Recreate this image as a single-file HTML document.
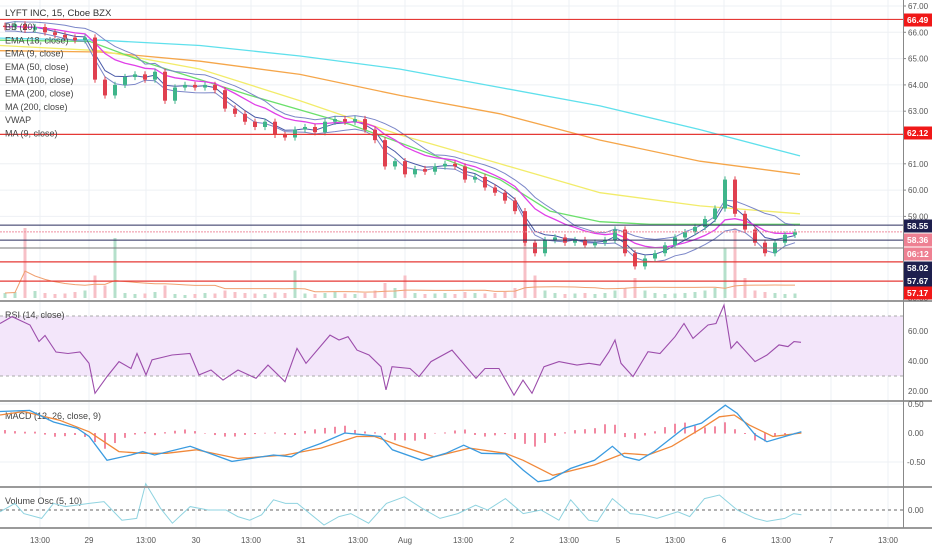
<!DOCTYPE html>
<html><head><meta charset="utf-8">
<style>
html,body{margin:0;padding:0;background:#fff;}
svg{display:block;font-family:"Liberation Sans",sans-serif;}
</style></head>
<body>
<svg id="c" width="932" height="550" viewBox="0 0 932 550" xmlns="http://www.w3.org/2000/svg"></svg>
<script>
// ---------- data ----------
const closes=[66.2,66.3,66.1,66.2,66.0,65.9,65.8,65.7,65.8,64.2,63.6,64.0,64.3,64.4,64.2,64.5,63.4,63.9,64.0,63.9,64.0,63.8,63.1,62.9,62.6,62.4,62.6,62.1,62.0,62.3,62.4,62.2,62.6,62.7,62.6,62.7,62.3,61.9,60.9,61.1,60.6,60.8,60.7,60.9,61.0,60.9,60.4,60.5,60.1,59.9,59.6,59.2,58.0,57.6,58.1,58.2,58.0,58.1,57.9,58.0,58.1,58.5,57.6,57.1,57.4,57.6,57.9,58.2,58.4,58.6,58.9,59.3,60.4,59.1,58.5,58.0,57.6,58.0,58.3,58.4];
const volumes=[10,12,140,14,10,8,9,12,15,45,25,120,10,8,9,12,25,8,6,8,10,9,15,12,10,9,8,11,10,55,9,8,10,12,9,8,10,15,30,20,45,10,8,9,10,8,12,10,9,10,12,20,140,45,15,10,8,9,10,8,10,15,20,40,15,10,8,9,10,12,15,20,100,140,40,15,12,10,8,9];
const cyanT=[0,10,20,30,40,50,60,70,80], cyanP=[65.78,65.7,65.5,65.1,64.6,63.9,63.2,62.3,61.3];
const orangeT=[0,10,20,30,40,50,60,70,80], orangeP=[65.3,65.25,64.9,64.4,63.6,62.9,61.9,61.1,60.6];
const yellowT=[0,10,20,30,40,50,60,70,80], yellowP=[65.5,65.3,64.6,63.4,62.1,61.0,59.9,59.4,59.1];
const greenT=[0,9,15,25,35,45,50,55,60,65,70,80], greenP=[65.7,65.65,64.8,63.6,62.5,61.1,60.4,59.2,58.8,58.7,58.7,58.7];
const levels=[66.49,62.12,57.27,56.54], levelsNavy=[58.67,58.10], levelGray=[57.80], levelPink=[58.41];
const priceTicks=[67,66,65,64,63,61,60,59];
const rsiT=[0,1.2,3,3.9,4.5,5.6,6.8,8,8.9,9.5,10.7,11.9,13.1,13.7,14.6,15.2,17.2,19,19.9,21.1,22.3,23.8,25.6,26.8,28.5,29.7,30.6,33,33.9,34.8,35.7,36.9,38.1,38.6,39.2,41,41.9,43.1,45.2,47.6,48.5,49.9,51.4,52.3,53.2,54.4,55.9,57.7,58.9,60,60.9,61.5,62.1,63.3,64.8,66,67.5,68.4,69.3,70.8,71.6,72.4,73.1,73.7,75.5,76.7,77.9,78.8,79.4,80.1];
const rsiV=[65,69.6,64,53,57,46,45,46,38.5,18.5,29.6,39.6,35,45,30.7,40.7,44,45,30.7,34,27.3,34,28.5,37.3,26.2,48.4,38.5,57.3,54,56.2,47.3,44,36.2,20.7,36.2,35,29.6,39.6,47.3,28.5,35,35,17.3,27.3,18.5,36.2,39.6,37.3,38.5,37.3,46.2,54,38.5,29.6,46.2,45,56.2,65,55.1,64,65,77.3,48.4,52.9,39.6,44,50.7,49.6,52.9,52.5];
const macdZX=[0,50,90,130,150,180,220,240,260,320,390,460,490,510,540,580,610,640,660,710,750,780,810,850,880,905,925,960,1000,1030,1050,1075,1100,1150,1180,1220,1240,1270,1290,1320,1348];
const macdV=[0.37,0.39,0.19,0.08,-0.06,-0.47,-0.38,-0.32,-0.38,-0.23,-0.49,-0.38,-0.41,-0.29,-0.18,0.0,-0.03,-0.06,-0.29,-0.47,-0.35,-0.21,-0.35,-0.36,-0.64,-0.84,-0.81,-0.61,-0.47,-0.23,-0.41,-0.47,-0.32,0.08,0.17,0.48,0.34,-0.03,-0.15,-0.06,0.02];
const sigZX=[0,40,100,150,200,240,280,330,400,480,540,600,630,670,730,790,850,880,930,1000,1050,1090,1130,1180,1210,1235,1260,1300,1348];
const sigV=[0.31,0.37,0.22,0.02,-0.32,-0.35,-0.35,-0.29,-0.44,-0.38,-0.26,-0.06,-0.06,-0.21,-0.41,-0.26,-0.35,-0.47,-0.73,-0.55,-0.35,-0.38,-0.23,0.08,0.28,0.31,0.14,-0.06,0.0];
const voZX=[0,25,40,70,90,110,150,175,205,230,245,270,290,320,350,380,400,420,440,460,480,500,545,570,590,620,650,680,710,740,770,800,820,850,880,910,940,960,990,1005,1030,1060,1080,1105,1140,1160,1185,1210,1240,1270,1290,1320,1335,1348];
const voV=[-3,11,-6,-14,11,5.6,11,14,-17,-14,44,2.8,-22,5.6,0,0,-11,-17,-8,17,11,11,-25,-11,-6,-22,11,22,2.8,-14,-6,8,0,19,-6,0,-17,17,-17,-19,19,-6,-8,-14,-3,-11,19,25,0,-14,-19,-14,-6,-8];
const timeLabels=["13:00","29","13:00","30","13:00","31","13:00","Aug","13:00","2","13:00","5","13:00","6","13:00","7","13:00"];
const timeT=[4,8.9,14.6,19.6,25.1,30.1,35.8,40.5,46.3,51.2,56.9,61.8,67.5,72.4,78.1,83.1,88.8];

// ---------- scales ----------
const PW=903;
const x=t=>t*10;
const yP=p=>6+(67-p)*26.3;
const yR=v=>331+(60-v)*1.5;
const yM=v=>433-v*58;
const yV=v=>510-v*0.6;
const yVol=v=>298-v*0.5;
const svg=document.getElementById('c');
const NS='http://www.w3.org/2000/svg';
function el(tag,attrs,parent){const e=document.createElementNS(NS,tag);for(const k in attrs)e.setAttribute(k,attrs[k]);(parent||svg).appendChild(e);return e;}
function txt(s,xx,yy,attrs,parent){const e=el('text',Object.assign({x:xx,y:yy},attrs),parent);e.textContent=s;return e;}
function interp(ts,vs,t){if(t<=ts[0])return vs[0];for(let i=1;i<ts.length;i++){if(t<=ts[i]){const f=(t-ts[i-1])/(ts[i]-ts[i-1]);return vs[i-1]+f*(vs[i]-vs[i-1]);}}return vs[vs.length-1];}
function poly(ts,vs,ys,color,name,w){const pts=ts.map((t,i)=>x(t).toFixed(1)+','+ys(vs[i]).toFixed(1)).join(' ');const p=el('polyline',{points:pts,fill:'none',stroke:color,'stroke-width':w||1.2});return p;}
function ema(arr,n){const k=2/(n+1);const out=[];let e=arr[0];arr.forEach(v=>{e=v*k+e*(1-k);out.push(e);});return out;}

// ---------- grid ----------
const grid=el('g',{});
timeT.forEach(t=>el('line',{x1:x(t),x2:x(t),y1:0,y2:528,stroke:'#eef0f4'},grid));
priceTicks.forEach(p=>el('line',{x1:0,x2:PW,y1:yP(p),y2:yP(p),stroke:'#eef0f4'},grid));
[60,40].forEach(v=>el('line',{x1:0,x2:PW,y1:yR(v),y2:yR(v),stroke:'#e6e0ee'},grid));
[0.5,-0.5].forEach(v=>el('line',{x1:0,x2:PW,y1:yM(v),y2:yM(v),stroke:'#eef0f4'},grid));

// ---------- main pane ----------
const volG=el('g',{});
volumes.forEach((v,i)=>{const up=closes[i]>=(i?closes[i-1]:closes[i]);const b=el('rect',{x:x(i+0.5)-1.5,y:yVol(v),width:3,height:298-yVol(v),fill:up?'#b5e0cb':'#f7c0c7'},volG);});
const volMa=volumes.map((v,i)=>{const s=volumes.slice(Math.max(0,i-19),i+1);return s.reduce((a,b)=>a+b,0)/s.length;});
poly(volumes.map((v,i)=>i+0.5),volMa,yVol,'#f0a070','volume-ma',1);

poly(cyanT,cyanP,yP,'#5fe0ec','ema-200-line',1.3);
poly(orangeT,orangeP,yP,'#f5a64a','ema-100-line',1.3);
poly(yellowT,yellowP,yP,'#f2ec6a','ema-50-line',1.3);
poly(greenT,greenP,yP,'#6be06b','ma-200-line',1.3);
const tC=closes.map((c,i)=>i+0.5);
const e9=ema(closes,4), e18=ema(closes,7), e20=ema(closes,9);
const bbU=[],bbL=[];
closes.forEach((c,i)=>{const s=closes.slice(Math.max(0,i-5),i+1);const m=s.reduce((a,b)=>a+b,0)/s.length;const sd=Math.sqrt(s.reduce((a,b)=>a+(b-m)*(b-m),0)/s.length);bbU.push(e18[i]+0.15+sd*0.6);bbL.push(e18[i]-0.15-sd*0.6);});
poly(tC,bbU,yP,'#7b86c8','bollinger-upper',1);
poly(tC,bbL,yP,'#7b86c8','bollinger-lower',1);
poly(tC,e9,yP,'#4a5aa8','ema-9-line',1);
poly(tC,e20,yP,'#e040e8','ema-18-line',1.3);

const cG=el('g',{});
closes.forEach((c,i)=>{const o=i?closes[i-1]:c+0.05;const up=c>=o;const col=up?'#3fb58a':'#e0404f';const cx=x(i+0.5);
el('line',{x1:cx,x2:cx,y1:yP(Math.max(o,c)+0.12),y2:yP(Math.min(o,c)-0.12),stroke:col,'stroke-width':1},cG);
const r=el('rect',{x:cx-2,y:yP(Math.max(o,c)),width:4,height:Math.max(1,Math.abs(yP(o)-yP(c))),fill:col},cG);
});

const lG=el('g',{});
levels.forEach(p=>el('line',{x1:0,x2:PW,y1:yP(p),y2:yP(p),stroke:'#e53935','stroke-width':1.2},lG));
levelsNavy.forEach(p=>el('line',{x1:0,x2:PW,y1:yP(p),y2:yP(p),stroke:'#2a2e5e','stroke-width':1},lG));
levelGray.forEach(p=>el('line',{x1:0,x2:PW,y1:yP(p),y2:yP(p),stroke:'#777','stroke-width':1},lG));
levelPink.forEach(p=>el('line',{x1:0,x2:PW,y1:yP(p),y2:yP(p),stroke:'#ef8fa0','stroke-width':1,'stroke-dasharray':'2,1'},lG));

const leg=el('g',{});
txt('LYFT INC, 15, Cboe BZX',5,16,{'font-size':9.5,fill:'#333'},leg);
['BB (20)','EMA (18, close)','EMA (9, close)','EMA (50, close)','EMA (100, close)','EMA (200, close)','MA (200, close)','VWAP','MA (9, close)'].forEach((s,i)=>txt(s,5,30+i*13.3,{'font-size':9,fill:'#444'},leg));

// ---------- RSI ----------
const rG=el('g',{});
el('rect',{x:0,y:yR(70),width:PW,height:yR(30)-yR(70),fill:'#f3e6fa'},rG);
[70,30].forEach(v=>el('line',{x1:0,x2:PW,y1:yR(v),y2:yR(v),stroke:'#aaa','stroke-dasharray':'3,3'},rG));
poly(rsiT,rsiV,yR,'#9c4dab','rsi-line',1.1);
txt('RSI (14, close)',5,318,{'font-size':9,fill:'#444'},rG);

// ---------- MACD ----------
const mG=el('g',{});
const macdT=macdZX.map(z=>z/16.82), sigT=sigZX.map(z=>z/16.82);
for(let t=0.5;t<80.5;t+=1){const h=interp(macdT,macdV,t)-interp(sigT,sigV,t);const b=el('rect',{x:x(t)-0.8,y:Math.min(yM(0),yM(h)),width:1.6,height:Math.abs(yM(h)-yM(0))+0.5,fill:'#ee6a8a'},mG);}
poly(sigT,sigV,yM,'#f0883a','macd-signal-line',1.3);
poly(macdT,macdV,yM,'#3a9be0','macd-line',1.3);
txt('MACD (12, 26, close, 9)',5,419,{'font-size':9,fill:'#444'},mG);

// ---------- Volume Osc ----------
const vG=el('g',{});
el('line',{x1:0,x2:PW,y1:yV(0),y2:yV(0),stroke:'#666','stroke-dasharray':'3,3'},vG);
poly(voZX.map(z=>z/16.82),voV,yV,'#8fd3e0','volume-osc-line',1);
txt('Volume Osc (5, 10)',5,504,{'font-size':9,fill:'#444'},vG);

// ---------- separators & axes ----------
[301,401,487,528].forEach(yy=>el('rect',{x:0,y:yy-1,width:932,height:2,fill:'#9a9a9a'}));
el('line',{x1:PW+0.5,x2:PW+0.5,y1:0,y2:528,stroke:'#888'});
const ax=el('g',{});
priceTicks.forEach(p=>{el('line',{x1:PW,x2:PW+3,y1:yP(p),y2:yP(p),stroke:'#888'},ax);txt(p.toFixed(2),PW+5,yP(p)+3,{'font-size':8,fill:'#555'},ax);});
txt('80.00',PW+5,301,{'font-size':8,fill:'#555'},ax);
[60,40,20].forEach(v=>txt(v.toFixed(2),PW+5,yR(v)+3,{'font-size':8,fill:'#555'},ax));
txt('0.50',PW+5,407,{'font-size':8,fill:'#555'},ax);
txt('0.00',PW+5,yM(0)+3,{'font-size':8,fill:'#555'},ax);
txt('-0.50',PW+4,yM(-0.5)+3,{'font-size':8,fill:'#555'},ax);
txt('0.00',PW+5,yV(0)+3,{'font-size':8,fill:'#555'},ax);
const tags=[["66.49",20,'#f01818','#fff'],["62.12",133,'#f01818','#fff'],["58.55",226,'#1e1f4e','#fff'],["58.36",240,'#ee8092','#fff'],["06:12",254,'#ee8092','#fff'],["58.02",268,'#1e1f4e','#fff'],["57.67",281,'#1e1f4e','#fff'],["57.17",293,'#f01818','#fff']];
tags.forEach(tg=>{const r=el('rect',{x:PW+1,y:tg[1]-6.5,width:29,height:13,fill:tg[2]},ax);txt(tg[0],PW+4,tg[1]+3,{'font-size':8.5,'font-weight':'bold',fill:tg[3]},ax);});
const tx=el('g',{});
timeLabels.forEach((s,i)=>txt(s,x(timeT[i]),543,{'font-size':8,fill:'#555','text-anchor':'middle'},tx));
</script>
</body></html>
